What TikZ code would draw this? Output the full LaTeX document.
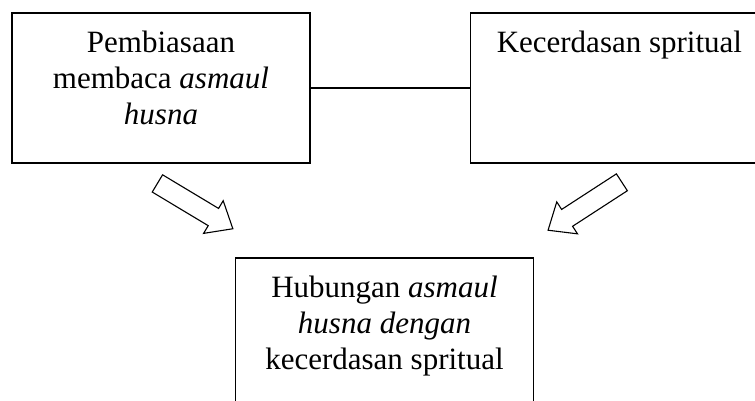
\documentclass[tikz,border=0pt]{standalone}
\usepackage{fontspec}
\setmainfont{Liberation Serif}
\usepackage{tikz}
\usetikzlibrary{shapes,arrows}
\usetikzlibrary{positioning}
\tikzstyle{box_style0}=[draw, line width=1.4pt, anchor=center, inner xsep=14pt, inner ysep=14pt]
\tikzstyle{diagram0}=[box_style0, minimum width=298pt, minimum height=150pt]
\tikzstyle{bigarrow}=[draw, single arrow, line width=1.1pt, inner xsep=0pt, inner ysep=9.5pt, minimum height=88pt, single arrow head extend=9pt, single arrow tip angle=80]
\tikzstyle{joinline}=[line width=1.4pt]
\newcommand{\boxlines}[1]{\parbox[c][122pt][t]{270pt}{\centering\strut #1}}

\begin{document}
\begin{tikzpicture}[x=1pt, y=-1pt, font=\fontsize{31}{36}\selectfont]
	\useasboundingbox (0,0) rectangle (755,401);

	\node[diagram0] (pembiasaan) at (161,88) {\boxlines{Pembiasaan\\membaca \textit{asmaul}\\\textit{husna}}} ;

	\node[diagram0, right=159pt of pembiasaan] (spiritual) {\boxlines{Kecerdasan spritual}} ;
	\draw[joinline] (pembiasaan) -- (spiritual) ;

	\node[diagram0] (hubungan) at (384.5,333) {\boxlines{Hubungan \textit{asmaul}\\\textit{husna dengan}\\kecerdasan spritual}} ;

	% hollow arrows towards the result box
	\node[bigarrow, rotate=-31] (arrowL) at (190,203) {} ;
	\node[bigarrow, rotate=213] (arrowR) at (590,203) {} ;
\end{tikzpicture}
\end{document}
